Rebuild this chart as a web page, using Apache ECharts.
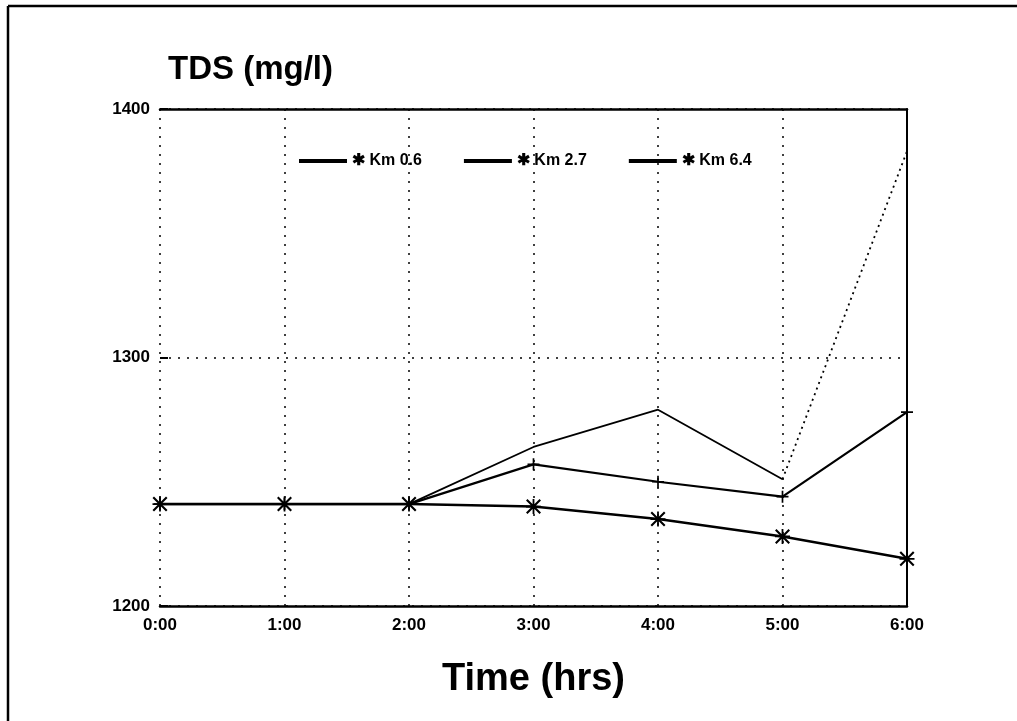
<!DOCTYPE html>
<html>
<head>
<meta charset="utf-8">
<script src="https://cdn.jsdelivr.net/npm/echarts@6/dist/echarts.min.js"></script>
<style>
  html, body { margin: 0; padding: 0; background: #fff; }
  #chart { width: 1017px; height: 721px; }
</style>
</head>
<body>
<div id="chart"></div>
<script>
  // time axis (hours) and TDS readings
  var hours = ['0:00', '1:00', '2:00', '3:00', '4:00', '5:00', '6:00']
  var km06 = [1241, 1241, 1241, 1240, 1235, 1228, 1219]
  var km27 = [1241, 1241, 1241, 1257, 1250, 1244, 1278]
  var km64 = [1241, 1241, 1241, 1264, 1279, 1251, 1383]
  var seriesNames = ['Km 0.6', 'Km 2.7', 'Km 6.4']
  var yTicks = [1200, 1300, 1400]

  var fontFam = '"Liberation Sans", Arial, sans-serif'
  // asterisk + plus marks like the plotter symbols
  var starPath = 'path://M0,1L1,0L10,9L9,10Z M9,0L10,1L1,10L0,9Z M4.4,0h1.2v10h-1.2z M0,4.4h10v1.2h-10z'
  var plusPath = 'path://M4.3,0h1.4v10h-1.4z M0,4.3h10v1.4h-10z'

  var dom = echarts.init(document.getElementById('chart'))

  var option = {
    backgroundColor: '#fff',
    animation: false,
    color: ['#000', '#000', '#000'],
    title: {
      text: 'TDS (mg/l)',
      left: 163,
      top: 48,
      textStyle: { fontFamily: fontFam, fontSize: 33, fontWeight: 'bold', color: '#000' }
    },
    legend: {
      data: seriesNames,
      left: 294,
      top: 148,
      itemWidth: 48,
      itemHeight: 10,
      itemGap: 42,
      icon: 'path://M0,4.6h10v0.8h-10z',
      formatter: function (name) { return '✱ ' + name },
      textStyle: { fontFamily: fontFam, fontSize: 16, fontWeight: 'bold', color: '#000' }
    },
    grid: { left: 160, right: 110, top: 109, bottom: 115 },
    xAxis: [
      {
        type: 'category',
        data: hours,
        boundaryGap: false,
        name: 'Time (hrs)',
        nameLocation: 'middle',
        nameGap: 55,
        nameTextStyle: { fontFamily: fontFam, fontSize: 38, fontWeight: 'bold', color: '#000' },
        axisLine: { lineStyle: { color: '#000', width: 2.5 } },
        axisTick: { show: false },
        axisLabel: { fontFamily: fontFam, fontSize: 17, fontWeight: 'bold', color: '#000', margin: 11 },
        splitLine: { show: true, lineStyle: { color: '#000', type: [2, 7], width: 1.5 } }
      },
      {
        type: 'category',
        data: hours,
        boundaryGap: false,
        position: 'top',
        axisLine: { lineStyle: { color: '#000', width: 2.5 } },
        axisTick: { show: false },
        axisLabel: { show: false }
      }
    ],
    yAxis: [
      {
        type: 'value',
        min: 1200,
        max: 1400,
        interval: 100,
        axisLine: { show: false },
        axisTick: { show: true, inside: true, length: 8, lineStyle: { color: '#000', width: 2 } },
        axisLabel: {
          fontFamily: fontFam, fontSize: 17, fontWeight: 'bold', color: '#000', margin: 10,
          formatter: function (v) { return yTicks.indexOf(v) >= 0 ? String(v) : '' }
        },
        splitLine: { show: true, lineStyle: { color: '#000', type: [2, 7], width: 1.5 } }
      },
      {
        type: 'value',
        min: 1200,
        max: 1400,
        interval: 100,
        position: 'right',
        axisLine: { show: true, lineStyle: { color: '#000', width: 2 } },
        axisTick: { show: false },
        axisLabel: { show: false },
        splitLine: { show: false }
      }
    ],
    series: [
      {
        name: seriesNames[0],
        type: 'line',
        data: km06,
        symbol: starPath,
        symbolSize: 15,
        lineStyle: { color: '#000', width: 2.5 },
        itemStyle: { color: '#000' }
      },
      {
        name: seriesNames[1],
        type: 'line',
        data: km27,
        symbol: plusPath,
        symbolSize: 12,
        lineStyle: { color: '#000', width: 2.2 },
        itemStyle: { color: '#000' }
      },
      {
        name: seriesNames[2],
        type: 'line',
        // last leg drawn dotted below
        data: km64.map(function (v, i) { return i <= 5 ? v : '-' }),
        symbol: 'none',
        lineStyle: { color: '#000', width: 1.8 },
        itemStyle: { color: '#000' }
      },
      {
        name: seriesNames[2] + ' end',
        type: 'line',
        data: km64.map(function (v, i) { return i >= 5 ? v : '-' }),
        symbol: 'none',
        lineStyle: { color: '#000', width: 1.8, type: [2, 4] },
        itemStyle: { color: '#000' }
      }
    ],
    graphic: [
      { type: 'line', shape: { x1: 8, y1: 6, x2: 1017, y2: 6 }, style: { stroke: '#000', lineWidth: 2.5 } },
      { type: 'line', shape: { x1: 8, y1: 6, x2: 8, y2: 721 }, style: { stroke: '#000', lineWidth: 2.5 } }
    ]
  }

  dom.setOption(option)
  window.addEventListener('resize', function () { dom.resize() })
</script>
</body>
</html>
